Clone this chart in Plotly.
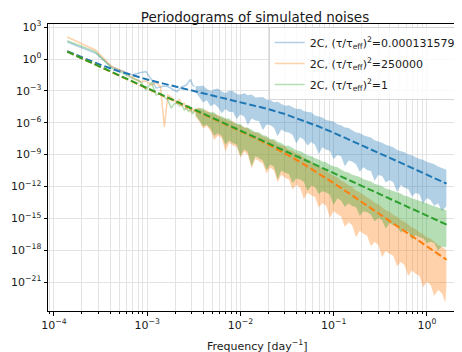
import numpy as np
import plotly.graph_objects as go

# ---------------- data (powers stored as log10) ----------------
# low-frequency periodogram points (individual Fourier frequencies, day^-1)
freq_low = [1.39e-4, 2.78e-4, 4.17e-4, 5.56e-4, 6.95e-4, 8.34e-4, 9.73e-4, 1.112e-3,
            1.251e-3, 1.39e-3, 1.529e-3, 1.668e-3, 1.807e-3, 1.946e-3, 2.085e-3,
            2.224e-3, 2.363e-3, 2.502e-3, 2.641e-3, 2.78e-3, 2.919e-3, 3.058e-3, 3.197e-3]
blue_low_log = [1.6, 0.56, -0.75, -1.19, -1.5, -1.3, -1.19, -1.95, -2.73, -2.64, -2.54,
                -2.59, -2.76, -2.92, -3.08, -2.82, -2.61, -2.54, -2.45, -2.16, -1.93, -2.4, -2.6]
orange_low_log = [2.07, 0.85, -0.7, -1.19, -1.72, -2.13, -2.07, -2.45, -2.2, -2.6, -6.4,
                  -3.39, -3.58, -3.86, -4.14, -3.76, -4.42, -4.14, -4.8, -4.33, -4.99, -4.61, -5.08]
green_low_log = [1.72, 0.69, -0.88, -1.35, -1.82, -2.07, -2.92, -2.2, -3.39, -3.23, -3.58,
                 -3.86, -4.61, -4.24, -4.14, -4.42, -4.33, -4.8, -4.52, -4.99, -4.61, -5.18, -4.89]

# dense high-frequency part: upper / lower extent of the noisy periodograms
freq_band = [3.31e-3, 3.63e-3, 3.98e-3, 4.37e-3, 4.79e-3, 5.25e-3, 5.75e-3, 6.31e-3, 6.92e-3,
             7.59e-3, 8.32e-3, 9.12e-3, 1.0e-2, 1.10e-2, 1.20e-2, 1.32e-2, 1.45e-2, 1.58e-2,
             1.74e-2, 1.91e-2, 2.09e-2, 2.29e-2, 2.51e-2, 2.75e-2, 3.02e-2, 3.31e-2, 3.63e-2,
             3.98e-2, 4.37e-2, 4.79e-2, 5.25e-2, 5.75e-2, 6.31e-2, 6.92e-2, 7.59e-2, 8.32e-2,
             9.12e-2, 0.100, 0.110, 0.120, 0.132, 0.145, 0.158, 0.174, 0.191, 0.209, 0.229,
             0.251, 0.275, 0.302, 0.331, 0.363, 0.398, 0.437, 0.479, 0.525, 0.575, 0.631,
             0.692, 0.759, 0.832, 0.912, 1.0, 1.10, 1.20, 1.32, 1.45, 1.58, 1.62]
blue_hi_log = [-2.55, -2.568, -2.500, -2.832, -3.015, -2.847, -2.779, -3.062, -3.196, -2.979,
               -3.013, -3.297, -3.332, -3.219, -3.406, -3.345, -3.635, -3.628, -3.571, -3.818,
               -3.866, -4.069, -4.022, -4.231, -4.391, -4.358, -4.525, -4.699, -4.673, -4.904,
               -4.985, -5.022, -5.310, -5.403, -5.496, -5.743, -5.790, -5.891, -6.142, -6.245,
               -6.449, -6.504, -6.709, -6.916, -6.973, -7.180, -7.288, -7.396, -7.655, -7.764,
               -7.873, -8.082, -8.191, -8.300, -8.560, -8.669, -8.779, -8.989, -9.049, -9.258,
               -9.418, -9.478, -9.688, -9.798, -9.908, -10.118, -10.228, -10.338, -10.428]
blue_lo_log = [-3.10, -3.618, -4.100, -3.882, -4.465, -4.247, -4.529, -5.112, -4.696, -4.979,
               -4.963, -5.647, -5.232, -5.419, -6.206, -5.595, -5.785, -5.828, -6.671, -6.168,
               -6.216, -6.469, -7.272, -6.631, -6.841, -6.908, -7.125, -7.949, -7.373, -7.604,
               -8.135, -7.822, -8.060, -8.953, -8.296, -8.543, -8.640, -9.441, -9.042, -9.145,
               -10.099, -9.554, -9.659, -9.916, -10.623, -10.180, -10.438, -10.546, -11.455,
               -10.914, -11.023, -11.632, -11.391, -11.600, -12.510, -11.869, -12.129, -12.239,
               -12.949, -12.608, -12.718, -13.628, -13.088, -13.298, -13.808, -13.568, -14.328,
               -13.988, -13.828]
orange_hi_log = [-4.622, -4.583, -4.843, -4.804, -5.116, -5.177, -5.239, -5.551, -5.614, -5.827,
                 -5.841, -6.155, -6.220, -6.437, -6.504, -6.823, -6.893, -7.016, -7.289, -7.366,
                 -7.594, -7.677, -8.010, -8.100, -8.239, -8.536, -8.633, -8.887, -8.991, -9.302,
                 -9.463, -9.630, -9.948, -10.071, -10.344, -10.471, -10.798, -10.979, -11.160,
                 -11.443, -11.627, -11.912, -12.047, -12.384, -12.571, -12.758, -13.046, -13.234,
                 -13.523, -13.662, -13.951, -14.240, -14.379, -14.668, -14.858, -15.148, -15.287,
                 -15.577, -15.867, -16.007, -16.296, -16.486, -16.776, -16.916, -17.206, -17.496,
                 -17.636, -17.926, -17.986]
orange_lo_log = [-5.422, -5.883, -6.543, -6.304, -6.766, -7.627, -7.189, -7.451, -8.714, -7.877,
                 -8.141, -8.255, -9.270, -8.737, -9.004, -10.273, -9.393, -9.616, -9.839, -10.766,
                 -10.244, -10.477, -11.610, -10.900, -11.189, -11.336, -12.283, -11.837, -12.091,
                 -13.202, -12.563, -12.830, -12.998, -13.971, -13.544, -13.821, -14.948, -14.329,
                 -14.610, -14.793, -15.777, -15.362, -15.647, -16.784, -16.171, -16.458, -16.646,
                 -17.634, -17.223, -17.512, -18.651, -18.040, -18.329, -18.518, -19.508, -19.098,
                 -19.387, -20.427, -19.917, -20.207, -20.396, -21.486, -20.976, -21.266, -22.306,
                 -21.746, -22.036, -22.926, -21.486]
green_hi_log = [-4.718, -4.628, -4.638, -4.998, -5.008, -5.018, -5.378, -5.388, -5.598, -5.608,
                -5.968, -6.028, -6.138, -6.448, -6.458, -6.668, -6.878, -6.888, -7.148, -7.258,
                -7.518, -7.528, -7.788, -7.898, -8.158, -8.168, -8.378, -8.588, -8.648, -8.858,
                -9.068, -9.128, -9.338, -9.448, -9.658, -9.718, -9.978, -10.088, -10.198, -10.408,
                -10.618, -10.678, -10.888, -10.998, -11.108, -11.318, -11.428, -11.538, -11.748,
                -11.858, -11.968, -12.178, -12.288, -12.398, -12.558, -12.668, -12.878, -12.938,
                -13.098, -13.208, -13.368, -13.478, -13.588, -13.748, -13.858, -13.968, -14.128,
                -14.238, -14.228]
green_lo_log = [-5.318, -5.778, -6.338, -6.198, -6.558, -7.218, -6.978, -7.238, -8.098, -7.658,
                -7.918, -8.028, -9.138, -8.498, -8.758, -10.118, -9.128, -9.338, -9.548, -10.458,
                -9.918, -10.128, -11.338, -10.498, -10.708, -10.818, -11.678, -11.238, -11.348,
                -11.558, -12.418, -11.928, -12.038, -12.698, -12.458, -12.568, -12.778, -13.738,
                -13.098, -13.308, -13.918, -13.578, -13.838, -13.948, -14.758, -14.318, -14.428,
                -14.638, -15.298, -14.958, -15.168, -15.978, -15.438, -15.648, -15.758, -16.318,
                -16.128, -16.238, -16.998, -16.558, -16.768, -16.878, -17.338, -17.198, -17.308,
                -18.018, -17.628, -17.738, -17.678]

# model spectra (dashed lines)
freq_model = [1.39e-4, 2e-4, 3e-4, 5e-4, 7e-4, 1e-3, 1.5e-3, 2e-3, 3e-3, 5e-3, 7e-3, 1e-2,
              1.5e-2, 2e-2, 3e-2, 5e-2, 7e-2, 0.1, 0.15, 0.2, 0.3, 0.5, 0.7, 1.0, 1.63]
blue_model_log = [0.734, 0.144, -0.472, -1.160, -1.553, -1.927, -2.319, -2.583, -2.948, -3.402,
                  -3.704, -4.031, -4.422, -4.719, -5.183, -5.865, -6.370, -6.940, -7.616, -8.105,
                  -8.802, -9.686, -10.269, -10.888, -11.736]
orange_model_log = [0.690, 0.058, -0.646, -1.534, -2.118, -2.738, -3.443, -3.943, -4.649, -5.542,
                    -6.134, -6.770, -7.512, -8.059, -8.875, -10.001, -10.798, -11.678, -12.706,
                    -13.445, -14.494, -15.822, -16.697, -17.626, -18.898]
green_model_log = [0.690, 0.058, -0.646, -1.534, -2.118, -2.738, -3.442, -3.942, -4.646, -5.534,
                   -6.118, -6.738, -7.442, -7.942, -8.646, -9.534, -10.118, -10.738, -11.442,
                   -11.942, -12.646, -13.534, -14.118, -14.738, -15.586]

series_names = ["2C, (τ/τ<sub>eff</sub>)<sup>2</sup>=0.000131579",
                "2C, (τ/τ<sub>eff</sub>)<sup>2</sup>=250000",
                "2C, (τ/τ<sub>eff</sub>)<sup>2</sup>=1"]

x_tickvals = [1e-4, 1e-3, 1e-2, 1e-1, 1e0]
x_ticktext = ["10<sup>−4</sup>", "10<sup>−3</sup>", "10<sup>−2</sup>", "10<sup>−1</sup>", "10<sup>0</sup>"]
y_tickvals = [1e3, 1e0, 1e-3, 1e-6, 1e-9, 1e-12, 1e-15, 1e-18, 1e-21]
y_ticktext = ["10<sup>3</sup>", "10<sup>0</sup>", "10<sup>−3</sup>", "10<sup>−6</sup>", "10<sup>−9</sup>",
              "10<sup>−12</sup>", "10<sup>−15</sup>", "10<sup>−18</sup>", "10<sup>−21</sup>"]

# ---------------- figure ----------------
colors = [(31, 119, 180), (255, 127, 14), (44, 160, 44)]
low = [blue_low_log, orange_low_log, green_low_log]
his = [blue_hi_log, orange_hi_log, green_hi_log]
los = [blue_lo_log, orange_lo_log, green_lo_log]
models = [blue_model_log, orange_model_log, green_model_log]

fig = go.Figure()
for i in range(3):
    r, g, b = colors[i]
    light = f"rgba({r},{g},{b},0.35)"
    fig.add_trace(go.Scatter(x=freq_low, y=10 ** np.array(low[i]), mode="lines",
                             line=dict(color=light, width=1.5), name=series_names[i],
                             legendgroup=str(i), hoverinfo="skip"))
    xs = list(freq_band) + list(freq_band)[::-1]
    ys = list(10 ** np.array(his[i])) + list(10 ** np.array(los[i]))[::-1]
    fig.add_trace(go.Scatter(x=xs, y=ys, mode="lines", fill="toself", fillcolor=light,
                             line=dict(width=0, color=light), showlegend=False,
                             legendgroup=str(i), hoverinfo="skip"))
for i in range(3):
    r, g, b = colors[i]
    fig.add_trace(go.Scatter(x=freq_model, y=10 ** np.array(models[i]), mode="lines",
                             line=dict(color=f"rgb({r},{g},{b})", width=2, dash="7px,3px"),
                             showlegend=False, hoverinfo="skip"))

minor_x = [m * 10.0 ** e for e in range(-5, 1) for m in range(2, 10)]
grid_c = "#e3e3e3"
txt_c = "#1a1a1a"

fig.update_layout(
    width=462, height=352,
    margin=dict(l=35.3, r=3.3, t=16, b=49, pad=0),
    paper_bgcolor="white", plot_bgcolor="white",
    font=dict(family="DejaVu Sans", size=11, color=txt_c),
    title=dict(text="Periodograms of simulated noises", x=0.5346, xref="container",
               xanchor="center", y=0.975, yref="container", yanchor="middle",
               pad=dict(t=0, b=0, l=0, r=0), font=dict(size=13.5, color=txt_c)),
    legend=dict(x=0.528, y=0.9895, xanchor="left", yanchor="top",
                bgcolor="rgba(255,255,255,0.8)", bordercolor="rgba(204,204,204,0.8)",
                borderwidth=1, font=dict(size=11, color=txt_c), tracegroupgap=2),
    xaxis=dict(type="log", range=[-4.0635, 0.4201], tickmode="array", tickvals=x_tickvals,
               ticktext=x_ticktext, showline=True, linecolor="black", linewidth=1, mirror=True,
               ticks="outside", ticklen=3.5, tickcolor="black", showgrid=True,
               gridcolor=grid_c, gridwidth=1, zeroline=False,
               minor=dict(tickmode="array", tickvals=minor_x, ticks="outside", ticklen=2,
                          tickcolor="black", showgrid=True, gridcolor=grid_c, gridwidth=1)),
    yaxis=dict(type="log", range=[-23.718, 3.294], tickmode="array", tickvals=y_tickvals,
               ticktext=y_ticktext, showline=True, linecolor="black", linewidth=1, mirror=True,
               ticks="outside", ticklen=3.5, tickcolor="black", showgrid=True,
               gridcolor=grid_c, gridwidth=1, zeroline=False),
    annotations=[dict(text="Frequency [day<sup>−1</sup>]", x=0.500, y=-0.087, xref="paper",
                      yref="paper", xanchor="center", yanchor="top", showarrow=False,
                      font=dict(size=11, color=txt_c))],
)

fig.write_html("out.html", config={"displayModeBar": False})
